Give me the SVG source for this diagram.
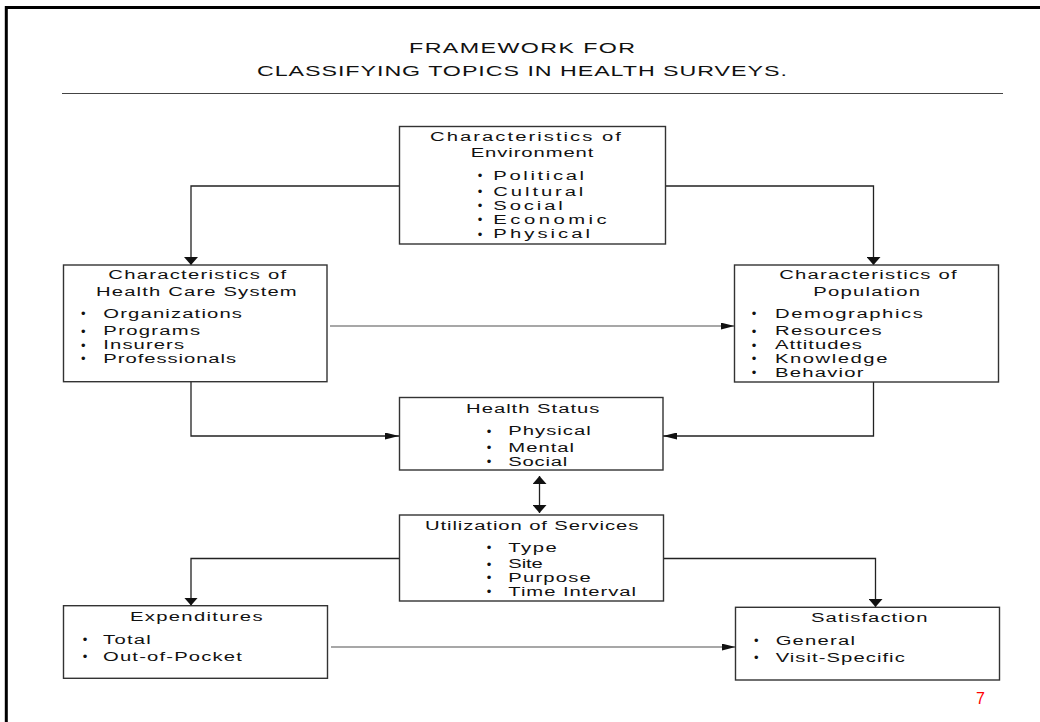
<svg xmlns="http://www.w3.org/2000/svg" width="1040" height="722" viewBox="0 0 1040 722">
<style>
.box{fill:#fff;stroke:#333;stroke-width:1.4}
.t{font-family:"Liberation Sans",Arial,sans-serif;font-size:13.5px;fill:#111}
.h{font-family:"Liberation Sans",Arial,sans-serif;font-size:15.5px;fill:#111}
.b{font-family:"Liberation Sans",Arial,sans-serif;font-size:13px;fill:#111;text-anchor:middle}
.c{fill:none;stroke:#222;stroke-width:1.3}
.g{fill:none;stroke:#8a8a8a;stroke-width:1.6}
.pg{font-family:"Liberation Sans",Arial,sans-serif;font-size:16px;fill:#ff0000}
</style>
<defs>
<marker id="aH" markerUnits="userSpaceOnUse" markerWidth="14" markerHeight="7" refX="14" refY="3.5" orient="auto"><path d="M0,0 L14,3.5 L0,7 z" fill="#111"/></marker>
<marker id="aV" markerUnits="userSpaceOnUse" markerWidth="8" markerHeight="14" refX="8" refY="7" orient="auto-start-reverse"><path d="M0,0 L8,7 L0,14 z" fill="#111"/></marker>
</defs>
<rect width="1040" height="722" fill="#fff"/>
<path d="M6.3,722 V7.5 H1040" fill="none" stroke="#000" stroke-width="3"/>
<g id="title">
<g transform="scale(1.5,1)">
<text class="h" x="272.7" y="53" textLength="150.7" lengthAdjust="spacing">FRAMEWORK FOR</text>
<text class="h" x="171.3" y="76" textLength="353.3" lengthAdjust="spacing">CLASSIFYING TOPICS IN HEALTH SURVEYS.</text>
</g>
<path d="M62,93.5 H1003" stroke="#444" stroke-width="1.2"/>
</g>
<g id="connectors">
<path class="c" d="M399,186 H191 V265" marker-end="url(#aV)"/>
<path class="c" d="M666,186 H873.5 V265" marker-end="url(#aV)"/>
<path class="g" d="M330,326 H734.5" marker-end="url(#aH)"/>
<path class="c" d="M191,382 V436 H399" marker-end="url(#aH)"/>
<path class="c" d="M873.5,382 V436 H663" marker-end="url(#aH)"/>
<path class="c" d="M539.5,476 V513" marker-start="url(#aV)" marker-end="url(#aV)"/>
<path class="c" d="M399,558.5 H191 V605.5" marker-end="url(#aV)"/>
<path class="c" d="M663,558.5 H875.5 V607" marker-end="url(#aV)"/>
<path class="g" d="M331,647 H735.5" marker-end="url(#aH)"/>
</g>
<g id="environment">
<rect class="box" x="399.5" y="126.5" width="266" height="117.5"/>
<g transform="scale(1.5,1)">
<text class="t" x="286.7" y="141" textLength="127.3" lengthAdjust="spacing">Characteristics of</text>
<text class="t" x="313.8" y="157" textLength="81.8" lengthAdjust="spacing">Environment</text>
<text class="t" x="328.9" y="180" textLength="60.5" lengthAdjust="spacing">Political</text>
<text class="t" x="328.9" y="196" textLength="60" lengthAdjust="spacing">Cultural</text>
<text class="t" x="328.9" y="210" textLength="46.3" lengthAdjust="spacing">Social</text>
<text class="t" x="328.9" y="224" textLength="75.6" lengthAdjust="spacing">Economic</text>
<text class="t" x="328.9" y="238.5" textLength="64.5" lengthAdjust="spacing">Physical</text>
</g>
<text class="b" x="480" y="180">•</text>
<text class="b" x="480" y="196">•</text>
<text class="b" x="480" y="210">•</text>
<text class="b" x="480" y="224">•</text>
<text class="b" x="480" y="238.5">•</text>
</g>
<g id="healthcare">
<rect class="box" x="63.5" y="265" width="263.5" height="116.7"/>
<g transform="scale(1.5,1)">
<text class="t" x="72.2" y="279.5" textLength="118.5" lengthAdjust="spacing">Characteristics of</text>
<text class="t" x="64" y="295.7" textLength="133.8" lengthAdjust="spacing">Health Care System</text>
<text class="t" x="68.9" y="318.3" textLength="92.4" lengthAdjust="spacing">Organizations</text>
<text class="t" x="68.9" y="335.5" textLength="64.5" lengthAdjust="spacing">Programs</text>
<text class="t" x="68.9" y="349.5" textLength="53.8" lengthAdjust="spacing">Insurers</text>
<text class="t" x="68.9" y="363.3" textLength="88.5" lengthAdjust="spacing">Professionals</text>
</g>
<text class="b" x="83.3" y="318.3">•</text>
<text class="b" x="83.3" y="335.5">•</text>
<text class="b" x="83.3" y="349.5">•</text>
<text class="b" x="83.3" y="363.3">•</text>
</g>
<g id="population">
<rect class="box" x="734.5" y="265" width="264" height="117"/>
<g transform="scale(1.5,1)">
<text class="t" x="519.5" y="279.5" textLength="118.3" lengthAdjust="spacing">Characteristics of</text>
<text class="t" x="542.2" y="295.7" textLength="71.1" lengthAdjust="spacing">Population</text>
<text class="t" x="516.7" y="318.3" textLength="98.5" lengthAdjust="spacing">Demographics</text>
<text class="t" x="516.7" y="335.5" textLength="71.1" lengthAdjust="spacing">Resources</text>
<text class="t" x="516.7" y="349.5" textLength="57.8" lengthAdjust="spacing">Attitudes</text>
<text class="t" x="516.7" y="363.3" textLength="74.9" lengthAdjust="spacing">Knowledge</text>
<text class="t" x="516.7" y="377" textLength="58.9" lengthAdjust="spacing">Behavior</text>
</g>
<text class="b" x="754" y="318.3">•</text>
<text class="b" x="754" y="335.5">•</text>
<text class="b" x="754" y="349.5">•</text>
<text class="b" x="754" y="363.3">•</text>
<text class="b" x="754" y="377">•</text>
</g>
<g id="healthstatus">
<rect class="box" x="399.5" y="397.5" width="263.5" height="72.5"/>
<g transform="scale(1.5,1)">
<text class="t" x="310.7" y="413" textLength="88.9" lengthAdjust="spacing">Health Status</text>
<text class="t" x="338.9" y="435.5" textLength="54.9" lengthAdjust="spacing">Physical</text>
<text class="t" x="338.9" y="452.3" textLength="43.8" lengthAdjust="spacing">Mental</text>
<text class="t" x="338.9" y="465.7" textLength="39.3" lengthAdjust="spacing">Social</text>
</g>
<text class="b" x="489" y="435.5">•</text>
<text class="b" x="489" y="452.3">•</text>
<text class="b" x="489" y="465.7">•</text>
</g>
<g id="utilization">
<rect class="box" x="399.5" y="515" width="264" height="86"/>
<g transform="scale(1.5,1)">
<text class="t" x="283.3" y="529.7" textLength="142.2" lengthAdjust="spacing">Utilization of Services</text>
<text class="t" x="338.9" y="551.7" textLength="32.3" lengthAdjust="spacing">Type</text>
<text class="t" x="338.9" y="568.5" textLength="23" lengthAdjust="spacing">Site</text>
<text class="t" x="338.9" y="582.3" textLength="54.9" lengthAdjust="spacing">Purpose</text>
<text class="t" x="338.9" y="596.3" textLength="85.1" lengthAdjust="spacing">Time Interval</text>
</g>
<text class="b" x="489" y="551.7">•</text>
<text class="b" x="489" y="568.5">•</text>
<text class="b" x="489" y="582.3">•</text>
<text class="b" x="489" y="596.3">•</text>
</g>
<g id="expenditures">
<rect class="box" x="63.5" y="605.7" width="264" height="72.6"/>
<g transform="scale(1.5,1)">
<text class="t" x="86.7" y="620.7" textLength="88.3" lengthAdjust="spacing">Expenditures</text>
<text class="t" x="68.7" y="644" textLength="31.8" lengthAdjust="spacing">Total</text>
<text class="t" x="68.7" y="660.7" textLength="92.5" lengthAdjust="spacing">Out-of-Pocket</text>
</g>
<text class="b" x="85" y="644">•</text>
<text class="b" x="85" y="660.7">•</text>
</g>
<g id="satisfaction">
<rect class="box" x="735.5" y="607.3" width="264" height="72.7"/>
<g transform="scale(1.5,1)">
<text class="t" x="540.7" y="621.7" textLength="77.6" lengthAdjust="spacing">Satisfaction</text>
<text class="t" x="517.1" y="645" textLength="52.9" lengthAdjust="spacing">General</text>
<text class="t" x="517.1" y="661.7" textLength="86.1" lengthAdjust="spacing">Visit-Specific</text>
</g>
<text class="b" x="756.3" y="645">•</text>
<text class="b" x="756.3" y="661.7">•</text>
</g>
<text class="pg" x="976" y="703.5">7</text>
</svg>
